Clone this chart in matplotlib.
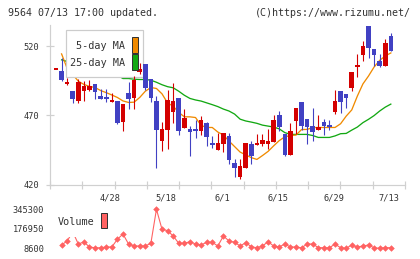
import numpy as np
import matplotlib
matplotlib.use('Agg')
import matplotlib.pyplot as plt
from matplotlib.patches import Rectangle

nan = np.nan

# ---------------- data ----------------
dates = ['4/28', '5/18', '6/1', '6/15', '6/29', '7/13']
date_idx = [10, 20, 30, 40, 50, 60]

opens = [503.2, 502.2, 492.8, 487.5, 480.3, 488.0, 488.5, 492.6, 483.9, 483.2,
         479.6, 480.6, 465.2, 486.3, 482.7, 501.5, 507.0, 496.0, 480.3, 451.7,
         459.4, 472.6, 482.3, 461.1, 460.1, 460.1, 458.7, 464.9, 450.3, 445.3,
         449.3, 455.1, 435.8, 425.2, 432.2, 449.2, 448.6, 449.6, 449.6, 451.0,
         470.2, 456.5, 441.5, 466.1, 479.8, 467.3, 462.3, 459.4, 465.4, 463.0,
         472.6, 487.5, 485.4, 489.9, 505.1, 513.5, 535.0, 517.8, 509.2, 505.8, 527.2]
closes = [503.2, 495.5, 494.3, 481.8, 494.0, 491.1, 491.1, 487.0, 482.0, 481.8,
          481.3, 464.4, 478.6, 481.8, 495.5, 503.4, 489.9, 482.7, 459.6, 460.1,
          481.0, 480.3, 458.8, 468.3, 458.2, 458.7, 466.6, 454.6, 448.6, 450.3,
          457.0, 437.7, 432.2, 433.4, 450.2, 440.8, 450.3, 452.2, 451.5, 466.6,
          461.8, 441.5, 458.7, 475.2, 462.3, 461.8, 458.2, 461.8, 462.3, 461.3,
          480.3, 479.8, 482.7, 501.5, 506.3, 520.0, 518.8, 514.0, 505.8, 522.4, 516.6]
highs = [503.2, 511.6, 497.0, 487.5, 496.2, 494.7, 495.5, 492.6, 489.0, 489.0,
         486.3, 480.6, 478.6, 494.0, 498.3, 508.0, 507.0, 496.5, 484.0, 465.2,
         488.3, 493.3, 482.3, 475.0, 462.3, 466.6, 469.5, 465.0, 455.5, 457.0,
         457.4, 457.5, 438.2, 438.3, 450.2, 451.6, 456.5, 456.6, 460.1, 470.2,
         473.3, 456.5, 464.2, 475.2, 479.8, 467.3, 475.5, 470.2, 467.3, 466.6,
         488.3, 487.5, 485.4, 501.5, 514.7, 523.8, 535.0, 517.8, 514.2, 525.0, 529.6]
lows = [503.2, 494.7, 492.1, 479.1, 479.1, 480.8, 487.7, 482.2, 482.0, 479.8,
        479.6, 463.7, 458.7, 475.0, 474.8, 500.3, 488.5, 479.8, 432.2, 444.0,
        446.0, 464.4, 455.8, 461.1, 440.8, 453.4, 455.8, 448.0, 446.4, 445.3,
        443.7, 434.9, 425.2, 424.0, 432.2, 435.2, 448.6, 448.1, 445.5, 451.0,
        458.9, 440.9, 441.5, 456.5, 459.4, 449.3, 451.7, 459.4, 455.8, 459.4,
        470.9, 471.9, 475.5, 487.8, 498.0, 509.7, 511.6, 505.8, 504.8, 505.8, 516.6]

ma5 = [nan, 514.5, 504.0, 499.5, 494.8, 492.4, 491.0, 490.2, 488.0, 486.5,
       484.8, 483.0, 480.5, 479.4, 479.6, 483.0, 487.5, 490.2, 489.5, 485.6,
       479.0, 476.7, 472.2, 469.0, 469.0, 468.5, 462.8, 461.3, 461.3, 458.0,
       455.8, 451.5, 447.5, 443.5, 441.5, 439.5, 438.2, 441.0, 444.0, 448.0,
       451.8, 454.5, 455.5, 455.8, 459.8, 459.9, 461.2, 461.3, 461.3, 461.3,
       461.3, 464.0, 469.5, 474.0, 484.0, 492.8, 498.5, 505.0, 509.8, 513.0, 515.2]
ma25 = [nan, 510.2, 509.0, 507.8, 506.5, 505.3, 504.0, 502.7, 501.5, 500.5,
        499.5, 499.0, 496.7, 496.7, 496.2, 496.0, 496.0, 495.5, 494.0, 492.2,
        490.8, 490.0, 487.5, 484.6, 482.3, 481.2, 480.4, 479.1, 477.8, 476.4,
        474.6, 473.2, 471.0, 467.3, 466.0, 465.2, 464.3, 463.0, 462.3, 461.6,
        460.3, 457.6, 456.3, 456.3, 456.3, 456.3, 455.5, 454.1, 454.1, 454.1,
        455.2, 456.8, 457.0, 459.4, 461.6, 464.8, 467.2, 469.9, 473.2, 476.0, 478.2]

volume = [nan, 37100, 71600, 150000, 45700, 63000, 19800, 13000, 13000, 19800,
          19800, 86300, 132000, 45700, 28500, 28500, 28500, 51700, 345300, 172600,
          160500, 114800, 51700, 51700, 65600, 45700, 37100, 60400, 60400, 28500,
          114800, 71600, 60400, 28500, 57000, 22400, 13000, 28500, 65600, 28500,
          19800, 45700, 19800, 19800, 13000, 45700, 45700, 15000, 13000, 13000,
          45700, 13000, 8600, 37100, 19800, 28500, 37100, 13000, 8600, 15000, 13000]

price_ticks = [420, 470, 520]
vol_ticks = [8600, 176950, 345300]

# ---------------- style ----------------
W, H, DPI = 420, 259, 100
PX = 72.0 / DPI
RED = '#d40000'
BLUE = '#4141c3'
ORANGE = '#f08a00'
GREEN = '#12a812'
VOLC = '#ff6262'
GRAY = '#d0d0d0'
TXT = '#333333'
MONO = 'DejaVu Sans Mono'

fig = plt.figure(figsize=(W / DPI, H / DPI), dpi=DPI)
fig.patch.set_facecolor('white')


def fx(x):
    return x / W


def fy(y):
    return 1 - y / H


# ---------------- main price axes ----------------
ax = fig.add_axes([fx(50), fy(184.6), fx(405) - fx(50), fy(25) - fy(184.6)])
ax.set_facecolor('none')
n = len(opens)
xi = np.arange(n)
x0, x1 = -1.075, 62.54
ax.set_xlim(x0, x1)
ax.set_ylim(420, 535.4)

ax.plot(xi, ma25, color=GREEN, lw=1.0 * PX * 1.3, zorder=1)
ax.plot(xi, ma5, color=ORANGE, lw=1.0 * PX * 1.3, zorder=1)

o = np.array(opens)
c = np.array(closes)
cols = [RED if cc >= oo else BLUE for oo, cc in zip(o, c)]
ax.vlines(xi, lows, highs, colors=cols, lw=PX * 1.1, zorder=3)
bottoms = np.minimum(o, c)
heights = np.maximum(np.abs(c - o), 0.9)
ax.bar(xi, heights, bottom=bottoms, width=0.82, color=cols, edgecolor='none', zorder=3)

for s in ['top', 'right']:
    ax.spines[s].set_visible(False)
for s in ['left', 'bottom']:
    ax.spines[s].set_color(GRAY)
    ax.spines[s].set_linewidth(PX * 1.2)

ax.set_yticks(price_ticks)
ax.set_yticklabels([str(t) for t in price_ticks], fontfamily=MONO, fontsize=6.2, color=TXT)
ax.set_xticks(np.linspace(x0, x1, 12))
ax.set_xticklabels([])
ax.tick_params(axis='both', direction='inout', length=8 * PX, width=PX * 1.2, color=GRAY)
ax.tick_params(axis='y', pad=5)

for d, i in zip(dates, date_idx):
    ax.annotate(d, xy=(i, 0), xycoords=('data', 'axes fraction'),
                xytext=(-1.5 * PX, -13.7 * PX), textcoords='offset points',
                ha='center', va='center', fontfamily=MONO, fontsize=6.2, color=TXT,
                annotation_clip=False)

# legend box (drawn above MA lines, below candles)
ax.add_patch(Rectangle((fx(65.7), fy(76.7)), fx(143.3) - fx(65.7), fy(30) - fy(76.7),
                       transform=fig.transFigure, facecolor='white', edgecolor='#cccccc',
                       lw=PX * 1.2, zorder=2, clip_on=False))
fig.text(fx(125.5), fy(46), '5-day MA', ha='right', va='center', fontfamily=MONO,
         fontsize=7.3, color=TXT, zorder=12)
fig.text(fx(125.5), fy(62.7), '25-day MA', ha='right', va='center', fontfamily=MONO,
         fontsize=7.3, color=TXT, zorder=12)
fig.add_artist(Rectangle((fx(131.7), fy(52.7)), fx(137.7) - fx(131.7), fy(37.3) - fy(52.7),
                         transform=fig.transFigure, facecolor=ORANGE, edgecolor='#333333',
                         lw=PX * 1.0, zorder=12))
fig.add_artist(Rectangle((fx(131.7), fy(70)), fx(137.7) - fx(131.7), fy(54) - fy(70),
                         transform=fig.transFigure, facecolor=GREEN, edgecolor='#333333',
                         lw=PX * 1.0, zorder=12))

# ---------------- volume axes ----------------
ax2 = fig.add_axes([fx(50), fy(248.3), fx(405) - fx(50), fy(209.3) - fy(248.3)])
ax2.set_facecolor('none')
ax2.set_xlim(x0, x1)
ax2.set_ylim(vol_ticks[0], vol_ticks[-1])
ax2.plot(xi, volume, color=VOLC, lw=PX * 1.1, marker='D', ms=2.9, mew=0.4,
         mec=VOLC, mfc=VOLC, clip_on=False, zorder=2)
for s in ax2.spines.values():
    s.set_visible(False)
ax2.set_xticks([])
ax2.set_yticks(vol_ticks)
ax2.set_yticklabels([str(t) for t in vol_ticks], fontfamily=MONO, fontsize=6.2, color=TXT)
ax2.tick_params(axis='y', length=0, pad=6 * PX)

ax2.add_patch(Rectangle((fx(55), fy(237)), fx(110) - fx(55), fy(208) - fy(237),
                        transform=fig.transFigure, facecolor='white', edgecolor='none',
                        zorder=5, clip_on=False))
fig.text(fx(58), fy(222.3), 'Volume', ha='left', va='center', fontfamily=MONO,
         fontsize=7.3, color=TXT, zorder=12)
fig.add_artist(Rectangle((fx(101), fy(228.3)), fx(107) - fx(101), fy(213.3) - fy(228.3),
                         transform=fig.transFigure, facecolor=VOLC, edgecolor='#333333',
                         lw=PX * 1.0, zorder=12))

# ---------------- header ----------------
fig.text(fx(8), fy(13.3), '9564 07/13 17:00 updated.', ha='left', va='center',
         fontfamily=MONO, fontsize=7.2, color=TXT)
fig.text(fx(411), fy(13.3), '(C)https://www.rizumu.net/', ha='right', va='center',
         fontfamily=MONO, fontsize=7.2, color=TXT)

fig.savefig('out.png', dpi=DPI)
